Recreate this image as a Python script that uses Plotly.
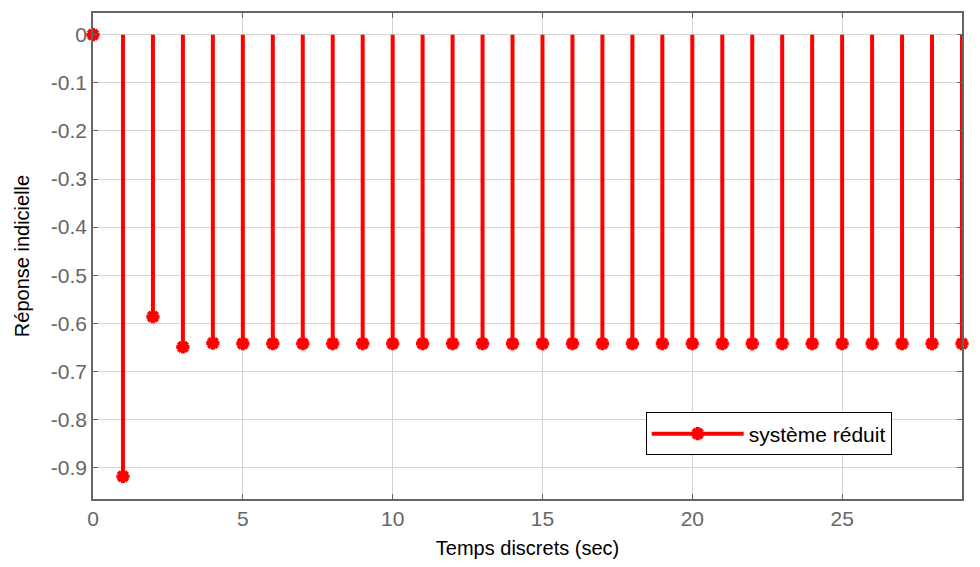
import plotly.graph_objects as go

t = list(range(30))
y = [0.0, -0.918, -0.586, -0.649, -0.641, -0.642, -0.642, -0.642, -0.642, -0.642,
     -0.642, -0.642, -0.642, -0.642, -0.642, -0.642, -0.642, -0.642, -0.642, -0.642,
     -0.642, -0.642, -0.642, -0.642, -0.642, -0.642, -0.642, -0.642, -0.642, -0.642]
series_name = "système réduit"
x_ticks = [0, 5, 10, 15, 20, 25]
y_ticks = [0, -0.1, -0.2, -0.3, -0.4, -0.5, -0.6, -0.7, -0.8, -0.9]

sx, sy = [], []
for a, b in zip(t, y):
    sx += [a, a, None]
    sy += [0, b, None]

FONT = "Arial, Liberation Sans"
fig = go.Figure()
fig.add_trace(go.Scatter(x=sx, y=sy, mode="lines", line=dict(color="red", width=4),
                         showlegend=False, hoverinfo="skip"))
fig.add_trace(go.Scatter(x=t, y=y, mode="markers",
                         marker=dict(symbol="asterisk-open", size=11, color="red",
                                     line=dict(color="red", width=4)),
                         showlegend=False, cliponaxis=False))
fig.add_trace(go.Scatter(x=[None], y=[None], mode="lines+markers", name=series_name,
                         line=dict(color="red", width=4),
                         marker=dict(symbol="asterisk-open", size=11, color="red",
                                     line=dict(color="red", width=4))))

axis_common = dict(showgrid=True, gridcolor="#d4d4d4", gridwidth=1, zeroline=False,
                   showline=True, linecolor="#666666", linewidth=1.5, mirror="ticks",
                   ticks="inside", ticklen=5, tickcolor="#666666",
                   tickfont=dict(family=FONT, size=21, color="#666666"))

fig.update_layout(
    width=980, height=567,
    margin=dict(l=93, r=18, t=11, b=68),
    paper_bgcolor="white", plot_bgcolor="white",
    font=dict(family=FONT, color="black"),
    xaxis=dict(range=[0, 29], tickvals=x_ticks, ticktext=[str(v) for v in x_ticks],
               title=dict(text="Temps discrets (sec)", font=dict(family=FONT, size=20, color="black"), standoff=12),
               **axis_common),
    yaxis=dict(range=[-0.965, 0.045], tickvals=y_ticks,
               ticktext=["0"] + ["%g" % v for v in y_ticks[1:]],
               title=dict(text="Réponse indicielle", font=dict(family=FONT, size=20, color="black"), standoff=16),
               **axis_common),
    legend=dict(x=0.636, y=0.178, xanchor="left", yanchor="top",
                bordercolor="black", borderwidth=1, bgcolor="white",
                font=dict(family=FONT, size=21, color="black"), itemwidth=92,
                tracegroupgap=0),
)

fig.write_html("out.html")
